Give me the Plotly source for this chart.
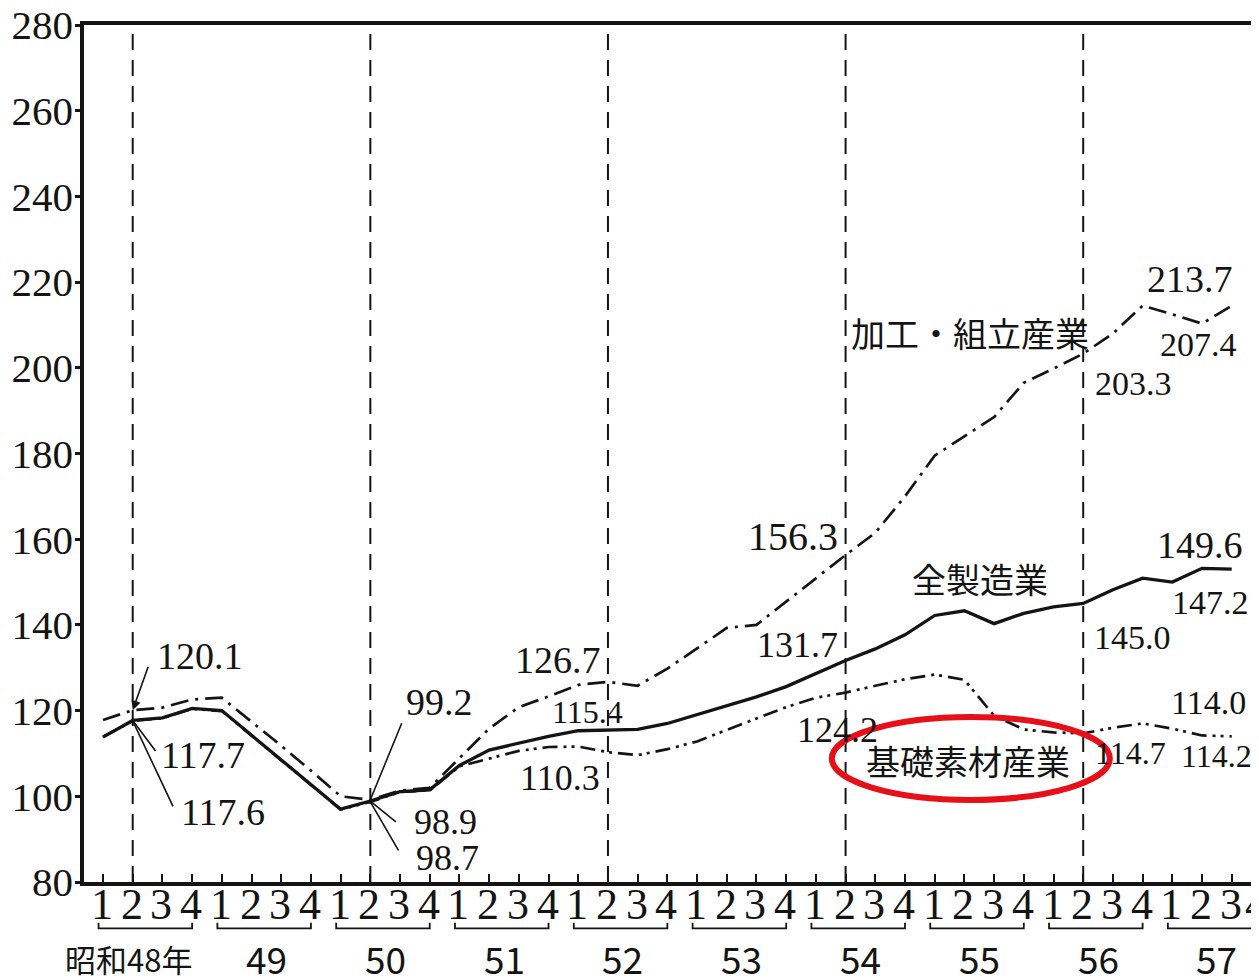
import plotly.graph_objects as go

# ---- data (index 1975 = 100), quarterly 昭和48年Q1 .. 昭和57年Q3 ----
years = [48, 49, 50, 51, 52, 53, 54, 55, 56, 57]
year_labels = ["昭和48年", "49", "50", "51", "52", "53", "54", "55", "56", "57"]
quarter_labels = ["1", "2", "3", "4"]
y_ticks = [80, 100, 120, 140, 160, 180, 200, 220, 240, 260, 280]

all_mfg = [113.8, 117.7, 118.3, 120.5, 120.0, 114.3, 108.6, 102.8, 97.0, 98.9,
           101.1, 101.5, 107.2, 110.8, 112.4, 114.0, 115.3, 115.4, 115.6, 117.0,
           119.0, 121.1, 123.2, 125.6, 128.6, 131.7, 134.4, 137.7, 142.2, 143.3,
           140.3, 142.7, 144.2, 145.0, 148.2, 150.9, 150.0, 153.2, 153.0]

assembly = [117.8, 120.1, 120.7, 122.6, 123.0, 117.5, 111.8, 106.0, 100.0, 99.2,
            101.3, 102.0, 109.0, 115.8, 120.8, 123.3, 126.0, 126.7, 125.8, 129.8,
            134.5, 139.3, 140.0, 145.5, 151.0, 156.3, 161.5, 170.0, 179.5, 184.0,
            188.5, 196.5, 199.8, 203.3, 208.0, 214.5, 212.5, 210.3, 214.5]

materials = [113.9, 117.6, 118.2, 120.4, 119.9, 114.2, 108.5, 102.7, 96.9, 98.7,
             101.0, 101.4, 107.0, 108.8, 110.6, 111.5, 111.6, 110.3, 109.6, 111.0,
             112.8, 115.5, 118.2, 120.8, 123.0, 124.2, 125.8, 127.3, 128.4, 127.2,
             118.8, 115.6, 114.9, 114.7, 116.0, 117.0, 115.8, 114.2, 114.0]

x_idx = list(range(len(all_mfg)))
X_RANGE = [-0.64, 38.75]
INK = "#141414"
SERIF = "Liberation Serif"
CJK = "Noto Sans CJK JP"

series = {"all": all_mfg, "assembly": assembly, "materials": materials}

fig = go.Figure()
fig.add_trace(go.Scatter(x=x_idx, y=all_mfg, mode="lines", name="全製造業",
                         line=dict(color=INK, width=3.3)))
fig.add_trace(go.Scatter(x=x_idx, y=assembly, mode="lines", name="加工・組立産業",
                         line=dict(color=INK, width=2.7, dash="18px,7px,3px,7px")))
fig.add_trace(go.Scatter(x=x_idx, y=materials, mode="lines", name="基礎素材産業",
                         line=dict(color=INK, width=2.7, dash="15px,6px,3px,5px,3px,6px")))

shapes = []
# dashed vertical guides at Q2 of every other year
for y in years[::2]:
    qi = 4 * (years.index(y)) + 1
    shapes.append(dict(type="line", xref="x", yref="paper", x0=qi, x1=qi, y0=0, y1=1,
                       line=dict(color=INK, width=2, dash="16px,10px"), layer="below"))

# brackets under each year's quarter labels
for i, y in enumerate(years):
    a = 4 * i - 0.15
    b = 4 * i + 3
    shapes.append(dict(type="path", xref="x", yref="paper",
                       path=f"M {a},-0.0475 L {a},-0.0540 L {b},-0.0540 L {b},-0.0475",
                       line=dict(color=INK, width=1.8)))

# red ellipse around 基礎素材産業 label
shapes.append(dict(type="circle", xref="x", yref="y", xsizemode="pixel", ysizemode="pixel",
                   xanchor=31, yanchor=materials[31], x0=-192, x1=86, y0=-70.5, y1=12.5,
                   line=dict(color="rgb(232,16,24)", width=6), layer="above"))

ann = []
# quarter labels
span = X_RANGE[1] - X_RANGE[0]
for i, y in enumerate(years):
    for q, ql in enumerate(quarter_labels):
        qi = 4 * i + q
        if qi <= X_RANGE[1]:
            ann.append(dict(x=qi, xref="x", y=-0.0268, yref="paper", text=ql, showarrow=False,
                            xanchor="center", yanchor="middle", xshift=-1,
                            font=dict(family=SERIF, size=44, color=INK)))
        else:
            ann.append(dict(x=(qi - X_RANGE[0]) / span, xref="paper", y=-0.0268, yref="paper",
                            text=ql, showarrow=False, xanchor="center", yanchor="middle",
                            xshift=-5, font=dict(family=SERIF, size=44, color=INK)))
# year labels
for i, lab in enumerate(year_labels):
    if i == 0:
        ann.append(dict(x=4 * i + 3, xref="x", y=-0.0887, yref="paper", text=lab, showarrow=False,
                        xanchor="right", yanchor="middle", xshift=2,
                        font=dict(family=CJK, size=31, color=INK)))
    else:
        ann.append(dict(x=4 * i + 1.5, xref="x", y=-0.0887, yref="paper", text=lab, showarrow=False,
                        xanchor="center", yanchor="middle",
                        font=dict(family=CJK, size=37, color=INK)))

# value labels: (series, index, text, xshift, yshift, size)
value_labels = [
    ("assembly", 1, "120.1", 67, 54, 38),
    ("all", 1, "117.7", 70, -34.5, 38),
    ("materials", 1, "117.6", 90, -91, 38),
    ("assembly", 9, "99.2", 69, 98, 38),
    ("all", 9, "98.9", 75, -21, 36),
    ("materials", 9, "98.7", 77, -56, 36),
    ("assembly", 17, "126.7", -50, 22, 38),
    ("all", 17, "115.4", -20, 18, 32),
    ("materials", 17, "110.3", -48, -26, 36),
    ("assembly", 25, "156.3", -53, 19, 40),
    ("all", 25, "131.7", -48, 15, 36),
    ("materials", 25, "124.2", -8, -37, 36),
    ("assembly", 33, "203.3", 50, -30, 34),
    ("all", 33, "145.0", 49, -34, 34),
    ("materials", 33, "114.7", 47, -20, 32),
    ("assembly", 35, "213.7", 47.5, 27, 38),
    ("assembly", 37, "207.4", -4, -21, 34),
    ("all", 37, "149.6", -2, 23, 38),
    ("all", 36, "147.2", 38, -20, 34),
    ("materials", 37, "114.0", 6, 33, 34),
    ("materials", 38, "114.2", -15, -20, 32),
]
for s, i, t, dx, dy, sz in value_labels:
    ann.append(dict(x=i, y=series[s][i], xref="x", yref="y", text=t, showarrow=False,
                    xanchor="center", yanchor="middle", xshift=dx, yshift=dy,
                    font=dict(family=SERIF, size=sz, color=INK)))

# leader lines: (series, index, tail dx, tail dy, arrowhead)
leaders = [
    ("assembly", 1, 16, -45, 2),
    ("all", 1, 24, 32, 0),
    ("materials", 1, 41, 87, 0),
    ("assembly", 9, 32, -78, 0),
    ("all", 9, 27, 22, 0),
    ("materials", 9, 29, 50, 0),
]
for s, i, ax, ay, head in leaders:
    ann.append(dict(x=i, y=series[s][i], xref="x", yref="y", text="", showarrow=True,
                    ax=ax, ay=ay, arrowhead=head, arrowsize=1.2, arrowwidth=1.6,
                    arrowcolor=INK, standoff=0, startstandoff=0))

# series names
name_labels = [
    ("all", 30, "全製造業", -14, 45),
    ("assembly", 30, "加工・組立産業", -24, 85),
    ("materials", 31, "基礎素材産業", -56, -31.5),
]
for s, i, t, dx, dy in name_labels:
    ann.append(dict(x=i, y=series[s][i], xref="x", yref="y", text=t, showarrow=False,
                    xanchor="center", yanchor="middle", xshift=dx, yshift=dy,
                    font=dict(family=CJK, size=34, color=INK)))

# page body has an 8px default margin, so the figure is sized/offset to compensate
fig.update_layout(
    width=1251, height=971,
    margin=dict(l=76, r=5, t=17, b=97, autoexpand=False),
    paper_bgcolor="white", plot_bgcolor="white",
    showlegend=False,
    shapes=shapes, annotations=ann,
    xaxis=dict(range=X_RANGE, showgrid=False, zeroline=False, showline=True,
               linecolor=INK, linewidth=3.5, mirror=True,
               ticks="inside", tickvals=x_idx, ticklen=8, tickwidth=2, tickcolor=INK,
               showticklabels=False),
    yaxis=dict(range=[80, 280], showgrid=False, zeroline=False, showline=True,
               linecolor=INK, linewidth=3.5, mirror=True,
               tickvals=y_ticks, ticks="outside", ticklen=5, tickwidth=2.5, tickcolor=INK,
               ticklabelstandoff=-6, ticklabeloverflow="allow",
               tickfont=dict(family=SERIF, size=41, color=INK)),
)

fig.write_html("out.html")
